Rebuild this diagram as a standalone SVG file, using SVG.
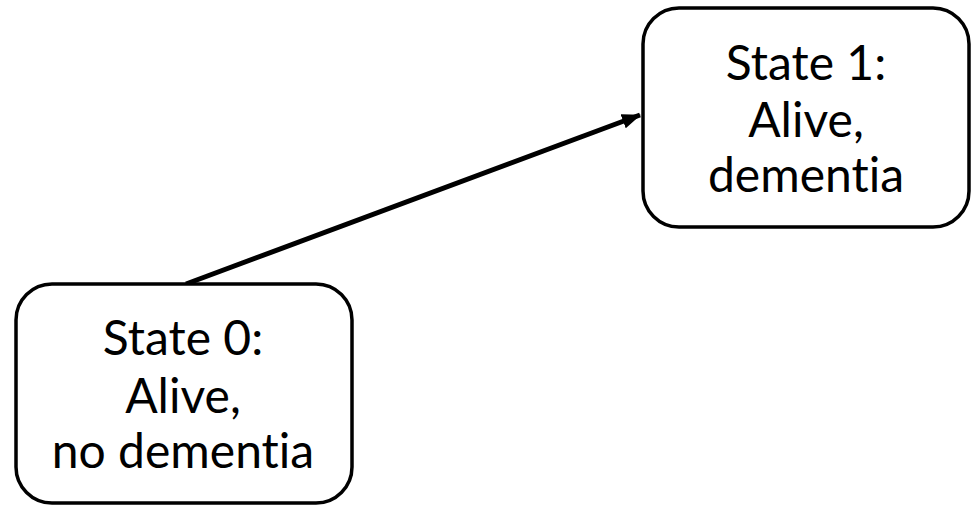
<svg xmlns="http://www.w3.org/2000/svg" width="972" height="506" viewBox="0 0 972 506">
<defs>
<style>
.box{fill:#fff;stroke:#000;stroke-width:3.5}
.t{font-family:Lato,"Open Sans",sans-serif;font-size:48px;fill:#000;text-anchor:middle;font-variant-ligatures:none;font-feature-settings:"liga" 0}
.c{stroke:#000;stroke-width:5;fill:none}
</style>
<marker id="ah" markerWidth="3.8" markerHeight="3" refX="3.6" refY="1.5" orient="auto" markerUnits="strokeWidth">
<path d="M0,0 L3.8,1.5 L0,3 z" fill="#000"/>
</marker>
</defs>
<rect width="972" height="506" fill="#fff"/>
<g id="connectors">
<line class="c" x1="186" y1="284" x2="640" y2="115" marker-end="url(#ah)"/>
</g>
<g id="state0">
<rect class="box" x="16" y="284" width="336" height="219" rx="36"/>
<text class="t" x="183" y="355">State 0:</text>
<text class="t" x="183" y="413">Alive,</text>
<text class="t" x="183" y="468">no dementia</text>
</g>
<g id="state1">
<rect class="box" x="643" y="8" width="326" height="219" rx="36"/>
<text class="t" x="806" y="80">State 1:</text>
<text class="t" x="806" y="137">Alive,</text>
<text class="t" x="806" y="192">dementia</text>
</g>
</svg>
